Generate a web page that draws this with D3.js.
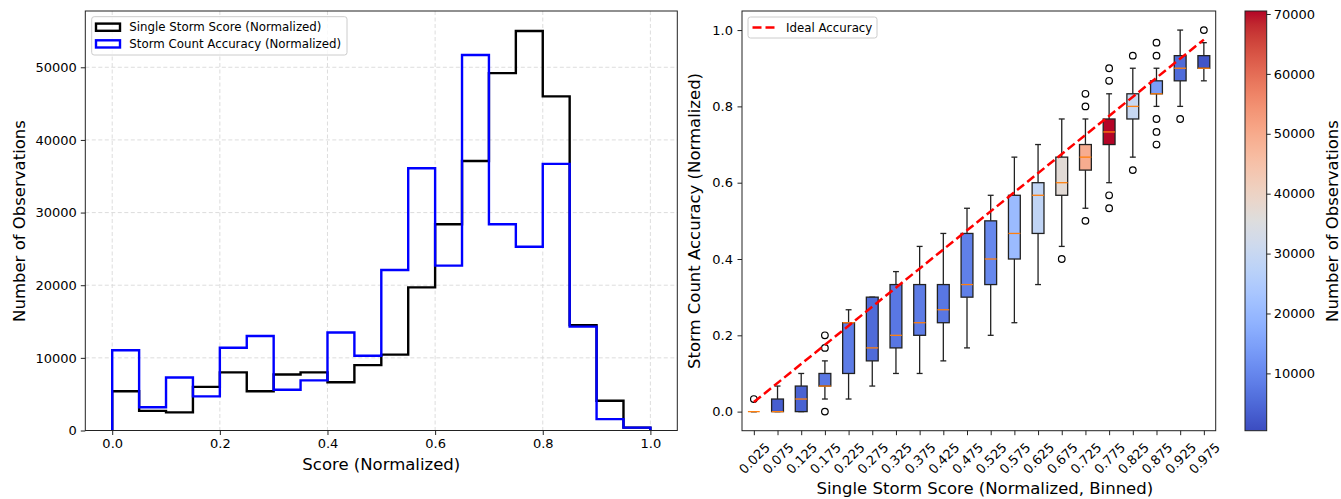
<!DOCTYPE html>
<html><head><meta charset="utf-8">
<script src="https://cdn.jsdelivr.net/npm/d3@7"></script>
<style>body{margin:0;background:#fff}svg{display:block}text{font-family:"DejaVu Sans",sans-serif;fill:#000}</style>
</head><body><svg id="c" width="1341" height="499"></svg>
<script>
// ---------- data ----------
const histEdges = d3.range(21).map(i => i * 0.05);
const singleScoreCounts = [5400, 2700, 2500, 6000, 8000, 5400, 7700, 8000, 6650, 9000, 10450, 19700, 28400, 37100, 49200, 55000, 46000, 14500, 4100, 400];
const countAccuracyCounts = [11050, 3200, 7300, 4700, 11400, 13000, 5600, 6900, 13500, 10300, 22100, 36100, 22700, 51700, 28400, 25300, 36700, 14300, 1560, 400];
const histXTicks = [0, 0.2, 0.4, 0.6, 0.8, 1.0];
const histYTicks = [0, 10000, 20000, 30000, 40000, 50000];

const binLabels = ["0.025","0.075","0.125","0.175","0.225","0.275","0.325","0.375","0.425","0.475","0.525","0.575","0.625","0.675","0.725","0.775","0.825","0.875","0.925","0.975"];
const boxQ1     = [0, 0, 0, 0.067, 0.1, 0.133, 0.167, 0.2, 0.233, 0.3, 0.333, 0.4, 0.467, 0.567, 0.633, 0.7, 0.767, 0.833, 0.867, 0.9];
const boxMedian = [0, 0, 0.033, 0.067, 0.233, 0.167, 0.2, 0.233, 0.267, 0.333, 0.4, 0.467, 0.567, 0.6, 0.667, 0.733, 0.8, 0.833, 0.9, 0.9];
const boxQ3     = [0, 0.033, 0.067, 0.1, 0.233, 0.3, 0.333, 0.333, 0.333, 0.467, 0.5, 0.567, 0.6, 0.667, 0.7, 0.767, 0.833, 0.867, 0.933, 0.933];
const whiskLow  = [0, 0, 0, 0.033, 0.033, 0.067, 0.1, 0.1, 0.133, 0.167, 0.2, 0.233, 0.333, 0.433, 0.533, 0.6, 0.667, 0.8, 0.8, 0.867];
const whiskHigh = [0, 0.067, 0.1, 0.133, 0.267, 0.3, 0.367, 0.433, 0.467, 0.533, 0.567, 0.667, 0.7, 0.767, 0.767, 0.833, 0.9, 0.9, 1.0, 0.967];
const fliers    = [[0.033], [], [], [0, 0.167, 0.2], [], [], [], [], [], [], [], [], [], [0.4], [0.5, 0.8, 0.833], [0.533, 0.567, 0.867, 0.9], [0.633, 0.933], [0.7, 0.733, 0.767, 0.933, 0.967], [0.767], [1.0]];
const binCounts = [430, 3200, 3900, 7400, 8100, 5300, 7400, 8100, 7400, 8800, 10200, 20700, 28500, 36900, 49500, 70500, 29900, 14400, 5300, 1800];
const accYTicks = [0, 0.2, 0.4, 0.6, 0.8, 1.0];
const cbarTicks = [10000, 20000, 30000, 40000, 50000, 60000, 70000];
const idealStart = 0.025, idealEnd = 0.975;

// coolwarm colormap stops
const coolwarmStops = [[59,76,192],[68,90,204],[77,104,215],[87,117,225],[98,130,234],[108,142,241],[119,154,247],[130,165,251],[141,176,254],[152,185,255],[163,194,255],[174,201,253],[184,208,249],[194,213,244],[204,217,238],[213,219,230],[221,221,221],[229,216,209],[236,211,197],[241,204,185],[245,196,173],[247,187,160],[247,177,148],[247,166,135],[244,154,123],[241,141,111],[236,127,99],[229,112,88],[222,96,77],[213,80,66],[203,62,56],[192,40,47],[180,4,38]];
const coolwarm = d3.interpolateRgbBasis ? d3.piecewise(d3.interpolateRgb, coolwarmStops.map(c => `rgb(${c[0]},${c[1]},${c[2]})`)) : null;

const svg = d3.select("#c");
const F = '"DejaVu Sans", sans-serif';

// ---------- left: histogram ----------
const L = {left: 85.3, right: 677.3, top: 11, bottom: 430.5};
const hx = d3.scaleLinear().domain([-0.05, 1.05]).range([L.left, L.right]);
const hy = d3.scaleLinear().domain([0, 57750]).range([L.bottom, L.top]);

const gL = svg.append("g");
// grid
gL.selectAll(".gx").data(histXTicks).join("line")
  .attr("x1", d => hx(d)).attr("x2", d => hx(d)).attr("y1", L.top).attr("y2", L.bottom)
  .attr("stroke", "#d9d9d9").attr("stroke-width", 0.9).attr("stroke-dasharray", "4,2.5");
gL.selectAll(".gy").data(histYTicks).join("line")
  .attr("x1", L.left).attr("x2", L.right).attr("y1", d => hy(d)).attr("y2", d => hy(d))
  .attr("stroke", "#d9d9d9").attr("stroke-width", 0.9).attr("stroke-dasharray", "4,2.5");

function stepPoints(counts) {
  const pts = [[histEdges[0], 0]];
  counts.forEach((c, i) => { pts.push([histEdges[i], c]); pts.push([histEdges[i + 1], c]); });
  pts.push([histEdges[histEdges.length - 1], 0]);
  return pts;
}
const stepLine = d3.line().x(d => hx(d[0])).y(d => hy(d[1]));
gL.append("path").attr("d", stepLine(stepPoints(singleScoreCounts)))
  .attr("fill", "none").attr("stroke", "#000").attr("stroke-width", 2.4).attr("stroke-linejoin", "miter");
gL.append("path").attr("d", stepLine(stepPoints(countAccuracyCounts)))
  .attr("fill", "none").attr("stroke", "#0000ff").attr("stroke-width", 2.4).attr("stroke-linejoin", "miter");

// frame
gL.append("rect").attr("x", L.left).attr("y", L.top).attr("width", L.right - L.left).attr("height", L.bottom - L.top)
  .attr("fill", "none").attr("stroke", "#222").attr("stroke-width", 1);

// axes ticks
const xAxL = d3.axisBottom(hx).tickValues(histXTicks).tickFormat(d3.format(".1f")).tickSize(4.5).tickPadding(4);
const gxL = gL.append("g").attr("transform", `translate(0,${L.bottom})`).call(xAxL);
const yAxL = d3.axisLeft(hy).tickValues(histYTicks).tickFormat(d3.format("d")).tickSize(4.5).tickPadding(4);
const gyL = gL.append("g").attr("transform", `translate(${L.left},0)`).call(yAxL);
[gxL, gyL].forEach(g => {
  g.select(".domain").remove();
  g.selectAll("line").attr("stroke", "#222").attr("stroke-width", 1);
  g.selectAll("text").attr("font-family", F).attr("font-size", 13).attr("fill", "#000");
});

gL.append("text").attr("x", (L.left + L.right) / 2).attr("y", 470).attr("text-anchor", "middle")
  .attr("font-size", 16.5).text("Score (Normalized)");
gL.append("text").attr("transform", "translate(24.5,221) rotate(-90)").attr("text-anchor", "middle")
  .attr("font-size", 16.5).text("Number of Observations");

// legend
const legL = gL.append("g");
legL.append("rect").attr("x", 91.7).attr("y", 16.7).attr("width", 255.3).attr("height", 38.3).attr("rx", 2.5)
  .attr("fill", "#fff").attr("fill-opacity", 0.8).attr("stroke", "#cccccc").attr("stroke-width", 1);
const legItems = [["Single Storm Score (Normalized)", "#000"], ["Storm Count Accuracy (Normalized)", "#0000ff"]];
legItems.forEach((it, i) => {
  const cy = 27.2 + i * 16.7;
  legL.append("rect").attr("x", 96).attr("y", cy - 3.6).attr("width", 24).attr("height", 7.2)
    .attr("fill", "none").attr("stroke", it[1]).attr("stroke-width", 2.4);
  legL.append("text").attr("x", 129.3).attr("y", cy + 4.2).attr("font-size", 11.8).text(it[0]);
});

// ---------- right: boxplots ----------
const R = {left: 742, right: 1215.7, top: 11, bottom: 430.7};
const bx = d3.scaleLinear().domain([0.5, 20.5]).range([R.left, R.right]);
const by = d3.scaleLinear().domain([-0.05, 1.05]).range([R.bottom, R.top]);
const cval = d3.scaleLinear().domain([430, 70500]).range([0, 1]).clamp(true);
const gR = svg.append("g");
const bw = bx(1.25) - bx(1); // half box width
const cw = bw / 2;

binLabels.forEach((lab, i) => {
  const x = bx(i + 1);
  const g = gR.append("g");
  // whiskers
  g.append("line").attr("x1", x).attr("x2", x).attr("y1", by(boxQ1[i])).attr("y2", by(whiskLow[i]))
    .attr("stroke", "#222").attr("stroke-width", 1.3);
  g.append("line").attr("x1", x).attr("x2", x).attr("y1", by(boxQ3[i])).attr("y2", by(whiskHigh[i]))
    .attr("stroke", "#222").attr("stroke-width", 1.3);
  // caps
  [whiskLow[i], whiskHigh[i]].forEach(v => {
    g.append("line").attr("x1", x - cw).attr("x2", x + cw).attr("y1", by(v)).attr("y2", by(v))
      .attr("stroke", "#222").attr("stroke-width", 1.3);
  });
  // box
  g.append("rect").attr("x", x - bw).attr("y", by(boxQ3[i])).attr("width", 2 * bw)
    .attr("height", Math.max(0, by(boxQ1[i]) - by(boxQ3[i])))
    .attr("fill", coolwarm(cval(binCounts[i]))).attr("stroke", "#222").attr("stroke-width", 1.3);
  // median
  g.append("line").attr("x1", x - bw).attr("x2", x + bw).attr("y1", by(boxMedian[i])).attr("y2", by(boxMedian[i]))
    .attr("stroke", "#ff7f0e").attr("stroke-width", 1.3);
  // fliers
  g.selectAll("circle").data(fliers[i]).join("circle")
    .attr("cx", x).attr("cy", d => by(d)).attr("r", 3.3)
    .attr("fill", "none").attr("stroke", "#000").attr("stroke-width", 1.2);
});

// ideal accuracy line
gR.append("line").attr("x1", bx(1)).attr("y1", by(idealStart)).attr("x2", bx(20)).attr("y2", by(idealEnd))
  .attr("stroke", "#ff0000").attr("stroke-width", 2.5).attr("stroke-dasharray", "9,4");

// frame
gR.append("rect").attr("x", R.left).attr("y", R.top).attr("width", R.right - R.left).attr("height", R.bottom - R.top)
  .attr("fill", "none").attr("stroke", "#222").attr("stroke-width", 1);

const xAxR = d3.axisBottom(bx).tickValues(d3.range(1, 21)).tickFormat(d => binLabels[d - 1]).tickSize(4.5);
const gxR = gR.append("g").attr("transform", `translate(0,${R.bottom})`).call(xAxR);
gxR.select(".domain").remove();
gxR.selectAll("line").attr("stroke", "#222");
gxR.selectAll("text").attr("font-family", F).attr("font-size", 13).attr("fill", "#000")
  .attr("text-anchor", "middle").attr("dy", "0.36em").attr("y", 0)
  .attr("transform", "translate(0,27.5) rotate(-45)");

const yAxR = d3.axisLeft(by).tickValues(accYTicks).tickFormat(d3.format(".1f")).tickSize(4.5).tickPadding(4.5);
const gyR = gR.append("g").attr("transform", `translate(${R.left},0)`).call(yAxR);
gyR.select(".domain").remove();
gyR.selectAll("line").attr("stroke", "#222");
gyR.selectAll("text").attr("font-family", F).attr("font-size", 13).attr("fill", "#000");

gR.append("text").attr("x", (R.left + R.right) / 2 + 6).attr("y", 494).attr("text-anchor", "middle")
  .attr("font-size", 16.5).text("Single Storm Score (Normalized, Binned)");
gR.append("text").attr("transform", "translate(700,221) rotate(-90)").attr("text-anchor", "middle")
  .attr("font-size", 16.5).text("Storm Count Accuracy (Normalized)");

// legend right
const legR = gR.append("g");
legR.append("rect").attr("x", 748).attr("y", 17).attr("width", 129).attr("height", 21).attr("rx", 2.5)
  .attr("fill", "#fff").attr("fill-opacity", 0.8).attr("stroke", "#cccccc").attr("stroke-width", 1);
legR.append("line").attr("x1", 752.5).attr("x2", 774.5).attr("y1", 27.5).attr("y2", 27.5)
  .attr("stroke", "#ff0000").attr("stroke-width", 2.5).attr("stroke-dasharray", "9,4");
legR.append("text").attr("x", 786).attr("y", 31.7).attr("font-size", 11.8).text("Ideal Accuracy");

// ---------- colorbar ----------
const C = {left: 1245, right: 1266.7, top: 11, bottom: 430.7};
const cy = d3.scaleLinear().domain([430, 70500]).range([C.bottom, C.top]);
const defs = svg.append("defs");
const grad = defs.append("linearGradient").attr("id", "cw").attr("x1", 0).attr("y1", 1).attr("x2", 0).attr("y2", 0);
d3.range(0, 1.0001, 1 / 64).forEach(t => grad.append("stop").attr("offset", t).attr("stop-color", coolwarm(t)));
svg.append("rect").attr("x", C.left).attr("y", C.top).attr("width", C.right - C.left).attr("height", C.bottom - C.top)
  .attr("fill", "url(#cw)").attr("stroke", "#222").attr("stroke-width", 1);
const cAx = d3.axisRight(cy).tickValues(cbarTicks).tickFormat(d3.format("d")).tickSize(4).tickPadding(3);
const gC = svg.append("g").attr("transform", `translate(${C.right},0)`).call(cAx);
gC.select(".domain").remove();
gC.selectAll("line").attr("stroke", "#222");
gC.selectAll("text").attr("font-family", F).attr("font-size", 13).attr("fill", "#000");
svg.append("text").attr("transform", "translate(1338,221) rotate(-90)").attr("text-anchor", "middle")
  .attr("font-size", 16.5).text("Number of Observations");
</script></body></html>
